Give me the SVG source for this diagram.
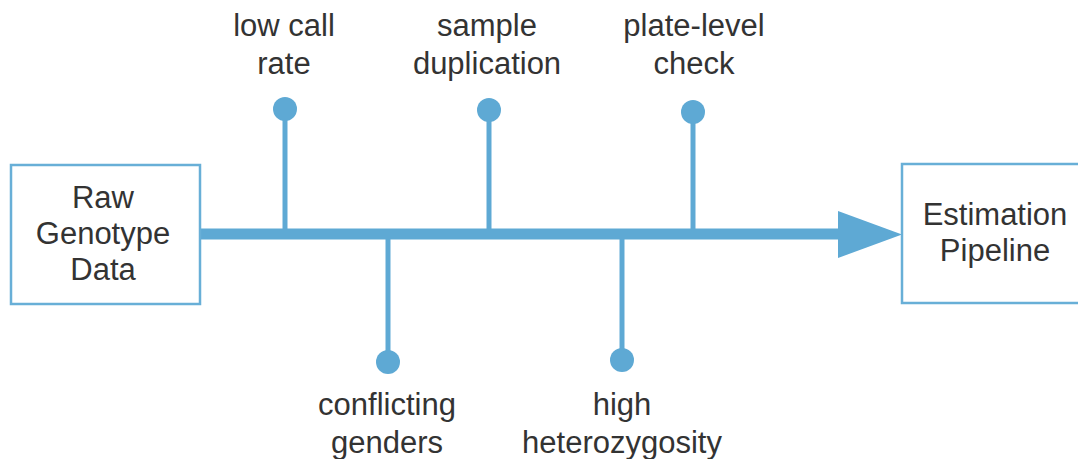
<svg xmlns="http://www.w3.org/2000/svg" width="1078" height="459" viewBox="0 0 1078 459">
<style>
.box{fill:#fff;stroke:#68afd7;stroke-width:2.5}
.t{font-family:"Liberation Sans",Arial,sans-serif;font-size:31px;fill:#333;text-anchor:middle}
.stem{stroke:#5ea9d4;stroke-width:5;fill:none}
.dot{fill:#5ea9d4}
</style>
<rect width="1078" height="459" fill="#fff"/>
<g id="connectors">
<line x1="200" y1="234" x2="842" y2="234" stroke="#5ea9d4" stroke-width="11"/>
<polygon points="838,211 902,234.5 838,258" fill="#5ea9d4"/>
<line class="stem" x1="285" y1="109" x2="285" y2="232"/>
<circle class="dot" cx="285" cy="109" r="12"/>
<line class="stem" x1="489" y1="110" x2="489" y2="232"/>
<circle class="dot" cx="489" cy="110" r="12"/>
<line class="stem" x1="693" y1="112" x2="693" y2="232"/>
<circle class="dot" cx="693" cy="112" r="12"/>
<line class="stem" x1="388" y1="236" x2="388" y2="362"/>
<circle class="dot" cx="388" cy="362" r="12"/>
<line class="stem" x1="622" y1="236" x2="622" y2="360"/>
<circle class="dot" cx="622" cy="360" r="12"/>
</g>
<g id="raw">
<rect class="box" x="11" y="165" width="189" height="139"/>
<text class="t" x="103" y="208">Raw</text>
<text class="t" x="103" y="244">Genotype</text>
<text class="t" x="103" y="280">Data</text>
</g>
<g id="estimation">
<rect class="box" x="902" y="164" width="190" height="139"/>
<text class="t" x="995" y="225">Estimation</text>
<text class="t" x="995" y="261">Pipeline</text>
</g>
<g id="lowcall">
<text class="t" x="284" y="36">low call</text>
<text class="t" x="284" y="74">rate</text>
</g>
<g id="sampledup">
<text class="t" x="487" y="36">sample</text>
<text class="t" x="487" y="74">duplication</text>
</g>
<g id="plate">
<text class="t" x="694" y="36">plate-level</text>
<text class="t" x="694" y="74">check</text>
</g>
<g id="conflicting">
<text class="t" x="387" y="415">conflicting</text>
<text class="t" x="387" y="453">genders</text>
</g>
<g id="hethigh">
<text class="t" x="622" y="415">high</text>
<text class="t" x="622" y="453">heterozygosity</text>
</g>
</svg>
